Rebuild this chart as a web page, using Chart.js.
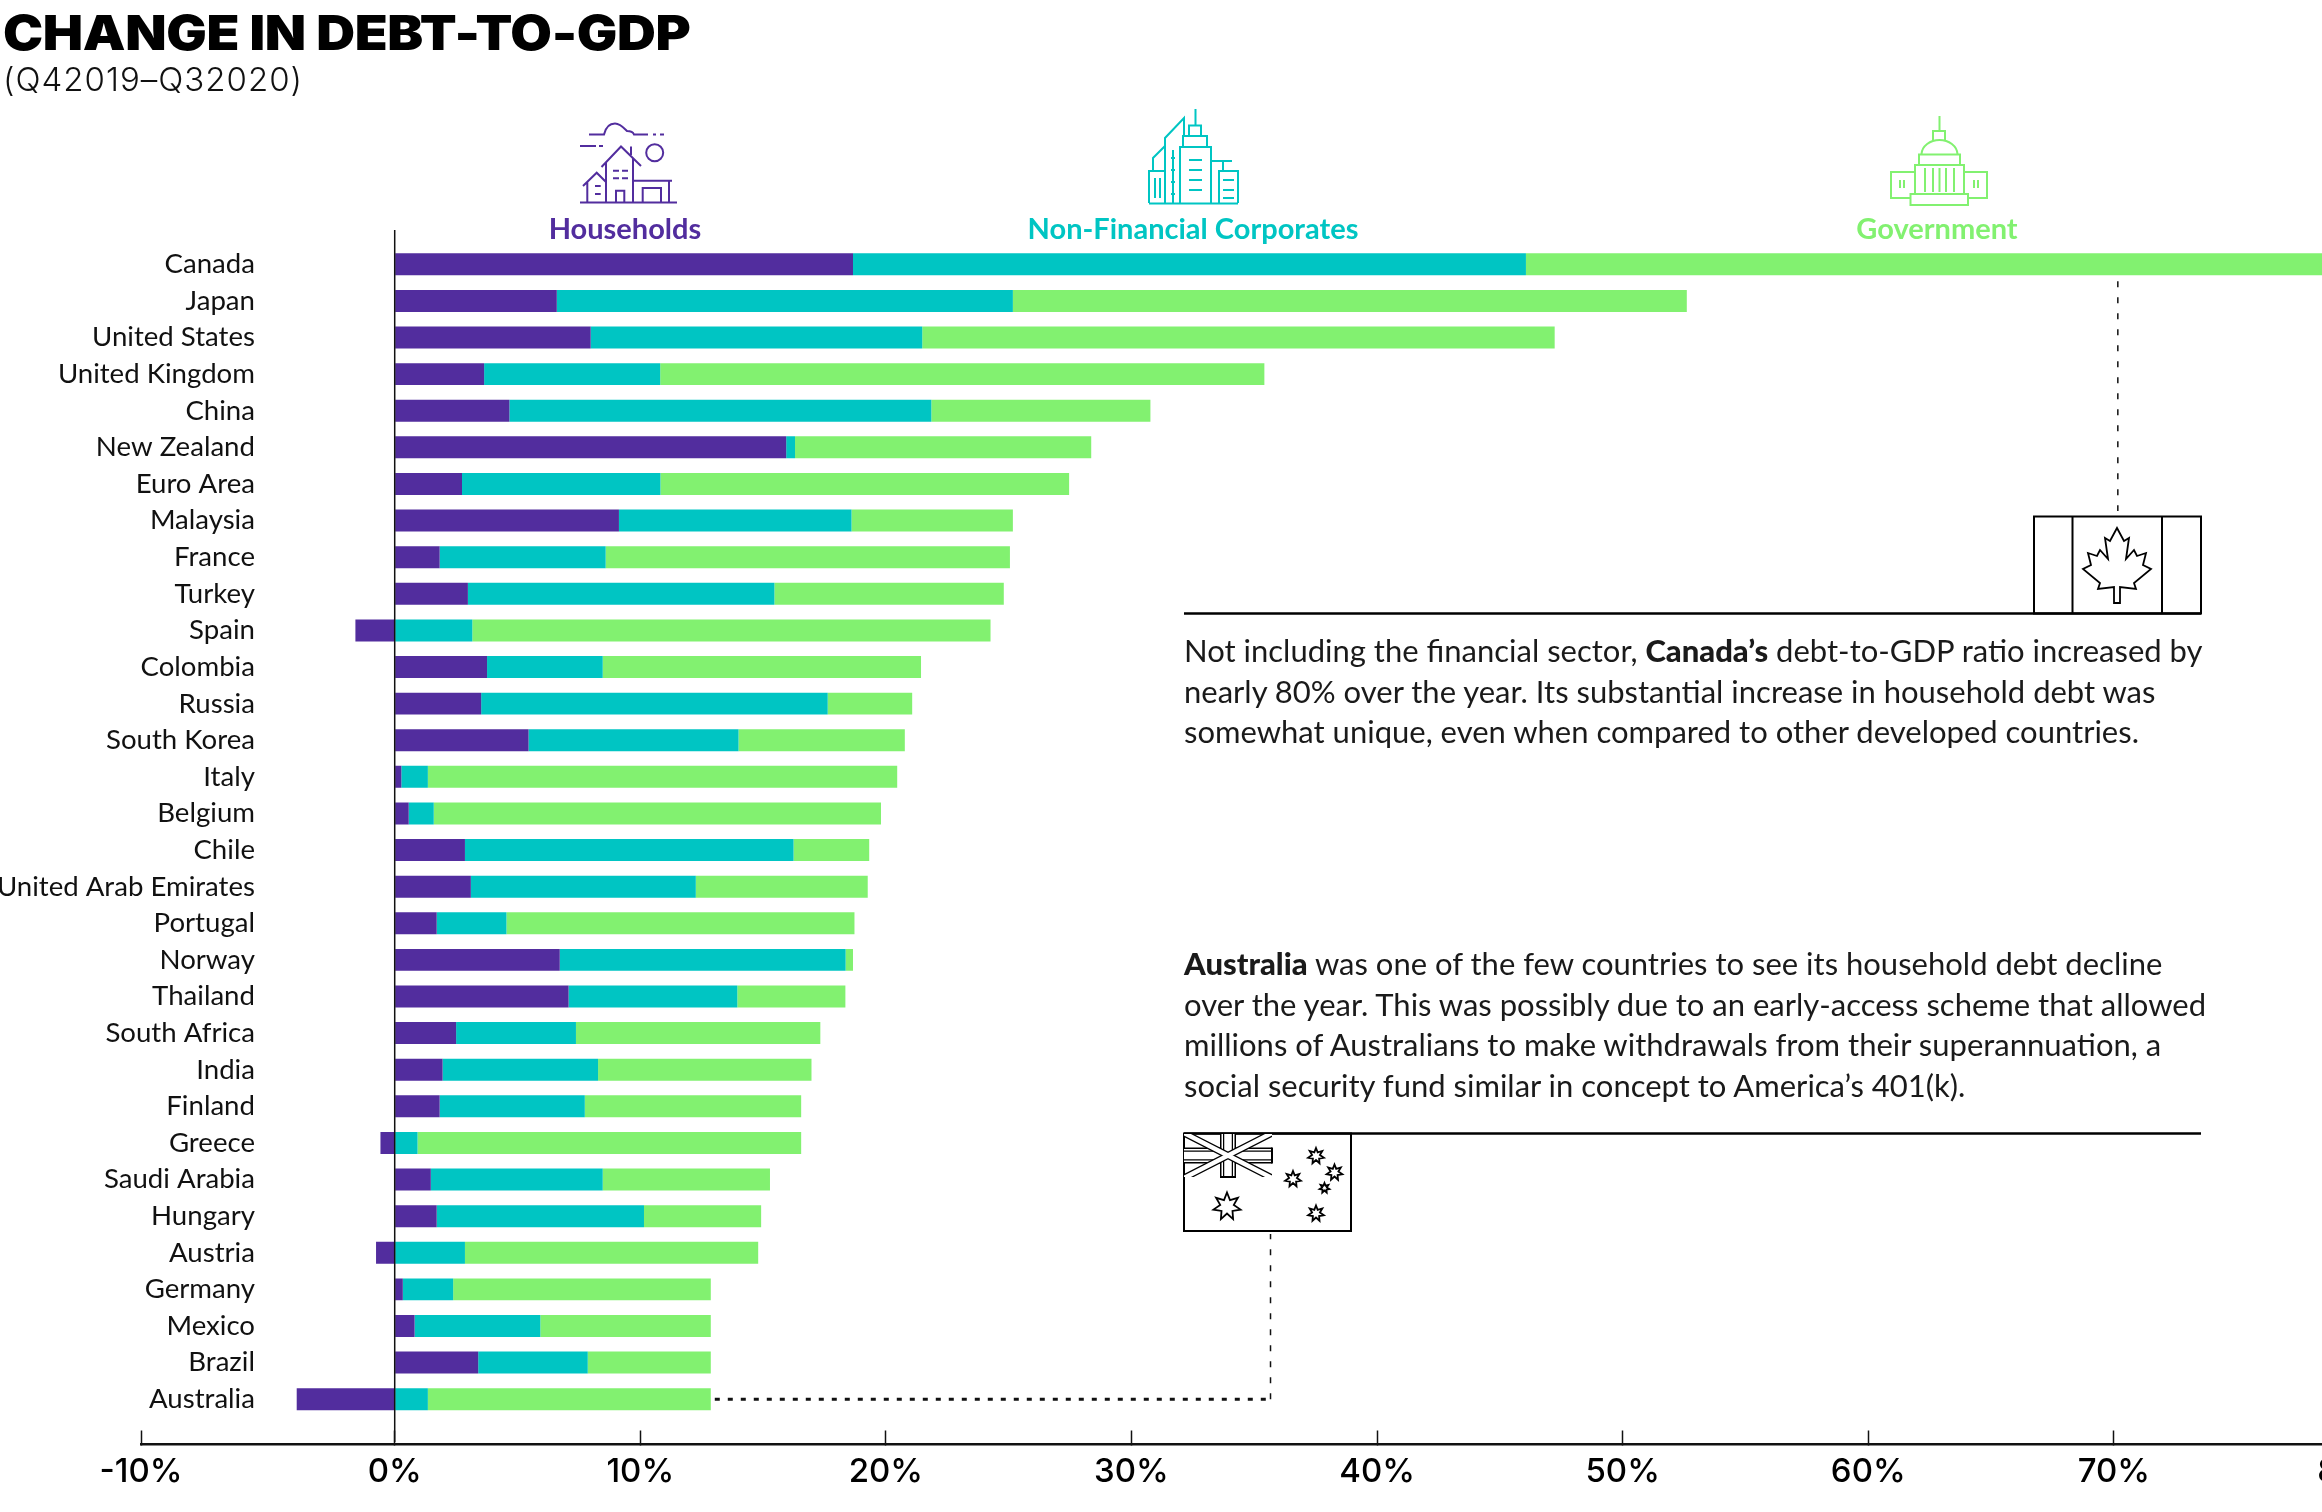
<!DOCTYPE html>
<html>
<head>
<meta charset="utf-8">
<title>Change in Debt-to-GDP</title>
<script src="https://cdn.jsdelivr.net/npm/chart.js@4"></script>
<style>
  html, body { margin: 0; padding: 0; background: #fff; width: 2322px; height: 1512px; overflow: hidden; }
  #wrap { position: relative; width: 2322px; height: 1512px; overflow: hidden; }
  canvas { position: absolute; left: 0; top: 0; }
  #art { position: absolute; left: 0; top: 0; }
  .txt { position: absolute; margin: 0; white-space: nowrap; color: #111; }
  h1.txt { left: 3px; top: 3px; font: 900 48px/60px Inter; color: #000; letter-spacing: -0.3px; transform: scaleX(1.12); transform-origin: left; }
  .sub { left: 3px; top: 59px; font: 300 33px/40px Inter; letter-spacing: 1px; }
  .key { top: 210px; font: 700 29px/36px Lato; transform: translateX(-50%); }
  .note { left: 1184px; font: 400 31px/40.5px Lato; color: #1a1a1a; }
  .note b { font-weight: 900; }
</style>
</head>
<body>
<div id="wrap">
  <canvas id="chart" width="2450" height="1512" style="width:2450px;height:1512px"></canvas>

  <h1 class="txt">CHANGE IN DEBT-TO-GDP</h1>
  <div class="txt sub">(Q42019–Q32020)</div>

  <div class="txt key" style="left:625px;color:#522d9e">Households</div>
  <div class="txt key" style="left:1193px;color:#00c5c3">Non-Financial Corporates</div>
  <div class="txt key" style="left:1937px;color:#82f170">Government</div>

  <p class="txt note" style="top:630px">Not including the financial sector, <b>Canada’s</b> debt-to-GDP ratio increased by<br>nearly 80% over the year. Its substantial increase in household debt was<br>somewhat unique, even when compared to other developed countries.</p>
  <p class="txt note" style="top:943px"><b>Australia</b> was one of the few countries to see its household debt decline<br>over the year. This was possibly due to an early-access scheme that allowed<br>millions of Australians to make withdrawals from their superannuation, a<br>social security fund similar in concept to America’s 401(k).</p>

  <svg id="art" width="2322" height="1512" fill="none" stroke-width="2">
    <defs><clipPath id="canton"><rect x="1184" y="1134" width="88" height="43"/></clipPath></defs>
    <!-- households icon -->
    <g stroke="#522d9e">
      <path d="M589 134.5H604C606 126 611 123.5 615 123.5C620 123.5 624 128 627 131C630 131 633 132 634 134.5H648M653 134.5H656M660 134.5H664"/>
      <path d="M580 146H596M599 146H603"/>
      <circle cx="654.7" cy="152.7" r="8.5"/>
      <path d="M580 202.5H677"/>
      <path d="M601.5 167L621 146.5L641 166M606 162V202M633 158V202M631 146.5V155"/>
      <path d="M613 170.7H619M622 170.7H628M613 178.3H619M622 178.3H628"/>
      <path d="M583 186L596.7 172.7L606 182M587.3 182V202M595 186H600.7M595 194H600.7"/>
      <path d="M634 180.7H672M669 180.7V202M642.7 202V188H661V202M616 202V190.7H624.3V202"/>
    </g>
    <!-- corporates icon -->
    <g stroke="#00c5c3">
      <path d="M1149 203.5H1238"/>
      <path d="M1195.5 109V125M1189 136V125.5H1201V136M1183 147V136H1207V147M1180 203V147H1211V203"/>
      <path d="M1165 171V138L1184 118V136"/>
      <path d="M1153 171V158L1165 146"/>
      <path d="M1149 203V171H1165V203M1173 203V150"/>
      <path d="M1211 161H1232M1223 161V171M1219 203V171H1238V203"/>
      <path d="M1189 160H1202M1189 170H1202M1189 180H1202M1189 190H1202M1223 180H1234M1223 190H1234M1223 198H1234"/>
      <path d="M1155 178V198M1160 178V198M1171 158H1175M1171 170H1175M1171 182H1175M1171 194H1175"/>
    </g>
    <!-- government icon -->
    <g stroke="#82f170">
      <path d="M1939.5 116V131M1933 140V131H1945V140"/>
      <path d="M1921.5 154C1922 146 1930 140 1939.5 140C1949 140 1957 146 1957.5 154"/>
      <path d="M1919 165V154.5H1960V165"/>
      <path d="M1915 194V165H1964V194M1925 168V192M1933 168V192M1939.5 168V192M1946 168V192M1954 168V192"/>
      <path d="M1915 172H1891V198H1910M1964 172H1987V198H1967"/>
      <path d="M1910.5 205V194H1968V205ZM1900 180V188M1904 180V188M1974 180V188M1978 180V188"/>
    </g>
    <!-- Canada flag -->
    <g stroke="#000">
      <path d="M1184 613.5H2201" stroke-width="2.5"/>
      <rect x="2034" y="516.5" width="167" height="97"/>
      <path d="M2072.5 516V613M2162 516V613"/>
      <polygon id="leaf" stroke-width="1.8" fill="#fff" points="2117,528 2124,541 2129,538 2126,559 2134,550 2137,556 2146,553 2143,565 2151,569 2134,583 2136,589 2120,587 2120,603 2114,603 2114,587 2098,589 2100,583 2083,569 2091,565 2088,553 2097,556 2100,550 2108,559 2105,538 2110,541"/>
    </g>
    <!-- Australia flag -->
    <g id="aus" stroke="#000">
      <path d="M1184 1133.5H2201" stroke-width="2.5"/>
      <rect x="1184" y="1133.5" width="167" height="97.5"/>
      <g clip-path="url(#canton)">
        <path d="M1228 1133V1178M1184 1155.5H1272" stroke-width="16"/>
        <path d="M1228 1133V1178M1184 1155.5H1272" stroke="#fff" stroke-width="13"/>
        <path d="M1228 1133V1178M1184 1155.5H1272" stroke-width="10"/>
        <path d="M1228 1133V1178M1184 1155.5H1272" stroke="#fff" stroke-width="7.5"/>
        <path d="M1184 1133L1272 1178M1272 1133L1184 1178" stroke-width="7"/>
        <path d="M1184 1133L1272 1178M1272 1133L1184 1178" stroke="#fff" stroke-width="4.5"/>
      </g>
      <path d="M1220 1177H1236M1272 1147.5V1163.5"/>
    </g>
  </svg>
</div>

<script>
const categories = ['Canada', 'Japan', 'United States', 'United Kingdom', 'China', 'New Zealand', 'Euro Area', 'Malaysia',
  'France', 'Turkey', 'Spain', 'Colombia', 'Russia', 'South Korea', 'Italy', 'Belgium',
  'Chile', 'United Arab Emirates', 'Portugal', 'Norway', 'Thailand', 'South Africa', 'India', 'Finland',
  'Greece', 'Saudi Arabia', 'Hungary', 'Austria', 'Germany', 'Mexico', 'Brazil', 'Australia'];

const households = [18.66, 6.6, 7.98, 3.64, 4.67, 15.94, 2.74, 9.13,
  1.83, 2.98, -1.6, 3.76, 3.52, 5.45, 0.27, 0.57,
  2.86, 3.1, 1.71, 6.72, 7.08, 2.5, 1.95, 1.83,
  -0.58, 1.47, 1.71, -0.76, 0.33, 0.81, 3.4, -3.99];

const corporates = [27.4, 18.57, 13.5, 7.17, 17.18, 0.36, 8.08, 9.47,
  6.76, 12.48, 3.16, 4.71, 14.11, 8.55, 1.08, 1.02,
  13.38, 9.16, 2.84, 11.64, 6.87, 4.88, 6.33, 5.91,
  0.93, 7.0, 8.44, 2.86, 2.05, 5.12, 4.46, 1.35];

const government = [32.9, 27.44, 25.75, 24.6, 8.92, 12.06, 16.64, 6.57,
  16.46, 9.34, 21.1, 12.96, 3.44, 6.77, 19.11, 18.21,
  3.08, 7.0, 14.17, 0.3, 4.4, 9.95, 8.69, 8.81,
  15.62, 6.81, 4.77, 11.94, 10.49, 6.94, 5.01, 11.52];

// the end ticks are slightly off the even spacing in the original, the 80% one runs off the page
const tickValues = [-10.33, 0, 10, 20, 30, 40, 50, 60, 70, 79.8];
const tickLabels = ['-10%', '0%', '10%', '20%', '30%', '40%', '50%', '60%', '70%', '80%'];

// stars on the Australian flag
const svgNs = 'http://www.w3.org/2000/svg';
const stars = [[1227, 1206.5, 14], [1316, 1156, 8], [1334.5, 1172.5, 8], [1293, 1179, 8], [1324.5, 1188, 5], [1316, 1213.5, 8]];
stars.forEach(([cx, cy, r]) => {
  const pts = [];
  for (let i = 0; i < 14; i++) {
    const a = -Math.PI / 2 + i * Math.PI / 7;
    const rr = i % 2 ? r * 0.5 : r;
    pts.push((cx + rr * Math.cos(a)).toFixed(1) + ',' + (cy + rr * Math.sin(a)).toFixed(1));
  }
  const star = document.createElementNS(svgNs, 'polygon');
  star.setAttribute('points', pts.join(' '));
  star.setAttribute('stroke-width', '1.8');
  document.getElementById('aus').appendChild(star);
});

const leaders = {
  id: 'leaders',
  afterDatasetsDraw(chart) {
    const { ctx, scales: { x, y } } = chart;
    ctx.save();
    ctx.strokeStyle = '#111';

    // zero line runs past the bars at both ends
    ctx.lineWidth = 1.5;
    ctx.beginPath();
    ctx.moveTo(x.getPixelForValue(0), 230);
    ctx.lineTo(x.getPixelForValue(0), 1442);
    ctx.stroke();

    // Canada note
    ctx.setLineDash([6, 10]);
    ctx.beginPath();
    ctx.moveTo(x.getPixelForValue(70.16), y.getPixelForValue(0) + 17);
    ctx.lineTo(x.getPixelForValue(70.16), 511);
    ctx.stroke();

    // Australia note
    const last = categories.length - 1;
    ctx.beginPath();
    ctx.moveTo(x.getPixelForValue(35.66), y.getPixelForValue(last));
    ctx.lineTo(x.getPixelForValue(35.66), 1234);
    ctx.stroke();
    ctx.lineWidth = 3;
    ctx.setLineDash([5, 8]);
    ctx.beginPath();
    ctx.moveTo(x.getPixelForValue(corporates[last] + government[last]) + 4, y.getPixelForValue(last));
    ctx.lineTo(x.getPixelForValue(35.66), y.getPixelForValue(last));
    ctx.stroke();
    ctx.restore();
  }
};

new Chart(document.getElementById('chart').getContext('2d'), {
  type: 'bar',
  plugins: [leaders],
  data: {
    labels: categories,
    datasets: [
      { label: 'Households', data: households, backgroundColor: '#522d9e' },
      { label: 'Non-Financial Corporates', data: corporates, backgroundColor: '#00c5c3' },
      { label: 'Government', data: government, backgroundColor: '#82f170' }
    ]
  },
  options: {
    indexAxis: 'y',
    responsive: false,
    animation: false,
    devicePixelRatio: 1,
    barPercentage: 0.6,
    categoryPercentage: 1,
    layout: { padding: { left: 141, right: 90.5, top: 246, bottom: 94.5 } },
    plugins: { legend: { display: false }, tooltip: { enabled: false } },
    scales: {
      x: {
        stacked: true,
        min: -10.33,
        max: 80,
        position: { y: 32.23 },
        afterBuildTicks: axis => { axis.ticks = tickValues.map(v => ({ value: v })); },
        grid: { drawOnChartArea: false, tickLength: -15, tickColor: '#111', tickWidth: 1.5 },
        border: { color: '#111', width: 2.5 },
        ticks: {
          autoSkip: false,
          maxRotation: 0,
          padding: 23,
          color: '#000',
          font: { family: 'Inter', size: 33, weight: 500 },
          callback: (value, index) => tickLabels[index]
        }
      },
      y: {
        stacked: true,
        position: { x: -5.69 },
        grid: { display: false },
        border: { display: false },
        ticks: {
          autoSkip: false,
          color: '#111',
          font: { family: 'Lato', size: 27.6 }
        }
      }
    }
  }
});
</script>
</body>
</html>
